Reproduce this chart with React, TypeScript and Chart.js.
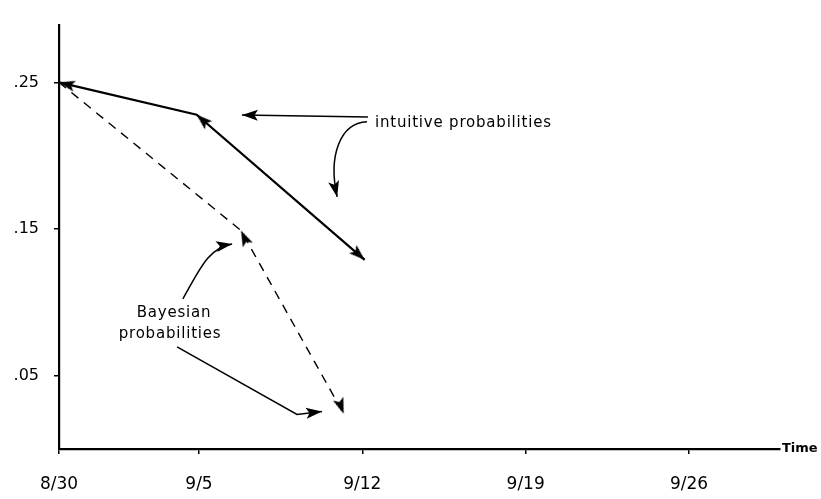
import React, { useEffect, useRef } from 'react';
import { Chart, registerables } from 'chart.js';

Chart.register(...registerables);

// ---- data ----
const dateTicks = [0, 6, 13, 20, 27]; // days after 8/30
const dateLabels = ['8/30', '9/5', '9/12', '9/19', '9/26'];
const probTicks = [0.05, 0.15, 0.25];

const intuitiveDays = [0, 5.9, 13.1];
const intuitiveProb = [0.25, 0.228, 0.129];
const intuitiveArrowAngles = [-76, -48, 132];

const bayesDays = [0, 7.8, 12.2];
const bayesProb = [0.25, 0.149, 0.024];
const bayesArrowAngles = [0, -25, 160];

// ---- annotations (in data units: days, probability) ----
const annotationTexts = [
  { text: 'intuitive probabilities', x: 13.54, y: 0.2224, align: 'left' },
  { text: 'Bayesian', x: 4.93, y: 0.0925, align: 'center' },
  { text: 'probabilities', x: 4.76, y: 0.0781, align: 'center' },
];
const annotationArrows = [
  { kind: 'line', pts: [[13.24, 0.2264], [7.84, 0.2277]] },
  { kind: 'bezier', pts: [[13.2, 0.2231], [12.04, 0.2224], [11.53, 0.1995], [11.92, 0.1719]] },
  { kind: 'bezier', pts: [[5.31, 0.1024], [6.04, 0.1227], [6.39, 0.1371], [7.42, 0.1398]] },
  { kind: 'line', pts: [[5.06, 0.0696], [10.2, 0.0236], [11.27, 0.0256]] },
];

const FONT = "'DejaVu Sans', sans-serif";

function makeArrowCanvas(): HTMLCanvasElement {
  const c = document.createElement('canvas');
  c.width = 36;
  c.height = 36;
  const g = c.getContext('2d')!;
  g.fillStyle = '#000';
  g.beginPath();
  g.moveTo(18, 18);
  g.lineTo(23.5, 34);
  g.lineTo(18, 30.5);
  g.lineTo(12.5, 34);
  g.closePath();
  g.fill();
  return c;
}

function drawHead(ctx: CanvasRenderingContext2D, x: number, y: number, dx: number, dy: number) {
  const ang = Math.atan2(dx, -dy);
  ctx.save();
  ctx.translate(x, y);
  ctx.rotate(ang);
  ctx.beginPath();
  ctx.moveTo(0, 0);
  ctx.lineTo(5.5, 16);
  ctx.lineTo(0, 12.5);
  ctx.lineTo(-5.5, 16);
  ctx.closePath();
  ctx.fill();
  ctx.restore();
}

const annotationPlugin = {
  id: 'annotations',
  afterDatasetsDraw(chart: any) {
    const { ctx, scales } = chart;
    const xs = scales.x;
    const ys = scales.y;
    const P = (p: number[]) => [xs.getPixelForValue(p[0]), ys.getPixelForValue(p[1])];
    ctx.save();
    ctx.fillStyle = '#000';
    ctx.strokeStyle = '#000';
    ctx.font = `15px ${FONT}`;
    (ctx as any).letterSpacing = '0.8px';
    ctx.textBaseline = 'middle';
    for (const t of annotationTexts) {
      ctx.textAlign = t.align as CanvasTextAlign;
      ctx.fillText(t.text, xs.getPixelForValue(t.x), ys.getPixelForValue(t.y));
    }
    (ctx as any).letterSpacing = '0px';
    ctx.lineWidth = 1.5;
    for (const a of annotationArrows) {
      const pts = a.pts.map(P);
      ctx.beginPath();
      ctx.moveTo(pts[0][0], pts[0][1]);
      if (a.kind === 'bezier') {
        ctx.bezierCurveTo(pts[1][0], pts[1][1], pts[2][0], pts[2][1], pts[3][0], pts[3][1]);
      } else {
        for (let i = 1; i < pts.length; i++) ctx.lineTo(pts[i][0], pts[i][1]);
      }
      ctx.stroke();
      const n = pts.length;
      const tip = pts[n - 1];
      const prev = pts[n - 2];
      drawHead(ctx, tip[0], tip[1], tip[0] - prev[0], tip[1] - prev[1]);
    }
    // "Time" label at the end of the x axis
    ctx.font = `bold 13px ${FONT}`;
    ctx.textAlign = 'left';
    ctx.fillText('Time', chart.chartArea.right + 2, chart.chartArea.bottom);
    ctx.restore();
  },
};

export default function App() {
  const ref = useRef<HTMLCanvasElement>(null);
  useEffect(() => {
    if (!ref.current) return;
    const arrow = makeArrowCanvas();
    const chart = new Chart(ref.current, {
      type: 'line',
      data: {
        datasets: [
          {
            label: 'intuitive probabilities',
            data: intuitiveDays.map((d, i) => ({ x: d, y: intuitiveProb[i] })),
            borderColor: '#000',
            borderWidth: 2.2,
            pointStyle: arrow as any,
            pointRadius: 3,
            rotation: intuitiveArrowAngles,
            clip: false as any,
          },
          {
            label: 'Bayesian probabilities',
            data: bayesDays.map((d, i) => ({ x: d, y: bayesProb[i] })),
            borderColor: '#000',
            borderWidth: 1.4,
            borderDash: [9, 7],
            pointStyle: arrow as any,
            pointRadius: [0, 3, 3],
            rotation: bayesArrowAngles,
            clip: false as any,
          },
        ],
      },
      options: {
        responsive: false,
        animation: false,
        devicePixelRatio: 1,
        layout: { padding: { top: 8, right: 41, left: 0, bottom: 0 } },
        plugins: { legend: { display: false }, tooltip: { enabled: false } },
        scales: {
          x: {
            type: 'linear',
            min: 0,
            max: 30.9,
            afterBuildTicks: (s: any) => {
              s.ticks = dateTicks.map((v) => ({ value: v }));
            },
            afterFit: (s: any) => {
              s.height = 50;
            },
            ticks: {
              color: '#000',
              font: { family: FONT, size: 17 },
              padding: 20,
              maxRotation: 0,
              autoSkip: false,
              callback: (v: any) => dateLabels[dateTicks.indexOf(Number(v))] ?? '',
            },
            grid: { drawOnChartArea: false, drawTicks: true, tickLength: 5, color: '#000', lineWidth: 1.5 },
            border: { display: true, color: '#000', width: 2.2 },
          },
          y: {
            type: 'linear',
            min: 0,
            max: 0.2894,
            afterBuildTicks: (s: any) => {
              s.ticks = probTicks.map((v) => ({ value: v }));
            },
            afterFit: (s: any) => {
              s.width = 59;
            },
            ticks: {
              color: '#000',
              font: { family: FONT, size: 16 },
              padding: 15,
              autoSkip: false,
              callback: (v: any) => Number(v).toFixed(2).replace(/^0/, ''),
            },
            grid: { drawOnChartArea: false, drawTicks: true, tickLength: 5, color: '#000', lineWidth: 1.5 },
            border: { display: true, color: '#000', width: 2.2 },
          },
        },
      },
      plugins: [annotationPlugin],
    });
    return () => chart.destroy();
  }, []);
  return (
    <div style={{ position: 'fixed', left: 0, top: 0, width: 821, height: 499, background: '#fff' }}>
      <canvas ref={ref} width={821} height={499} style={{ display: 'block', width: 821, height: 499 }} />
    </div>
  );
}
